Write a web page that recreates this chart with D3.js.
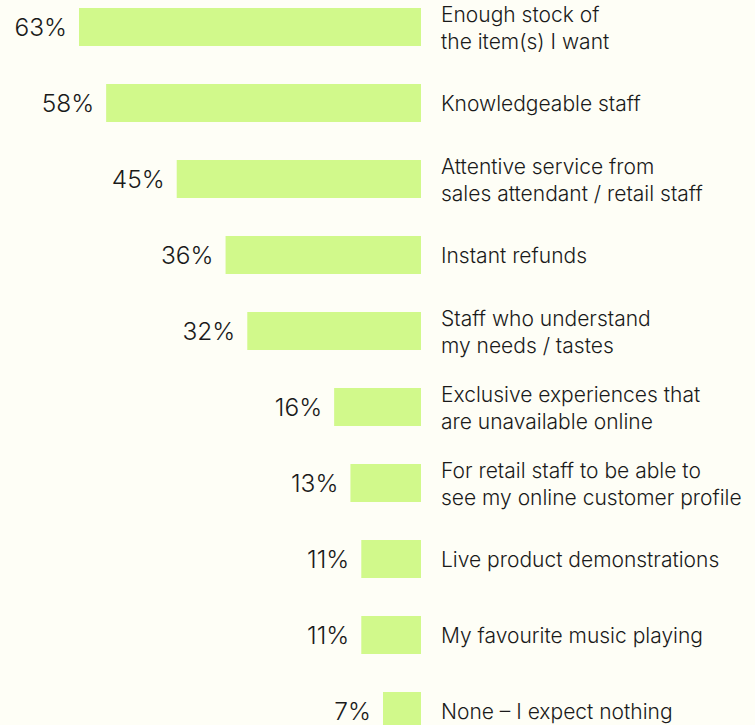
<!DOCTYPE html>
<html>
<head>
<meta charset="utf-8">
<script src="https://cdn.jsdelivr.net/npm/d3@7"></script>
<style>
  html, body { margin: 0; padding: 0; background: #FEFEF6; }
  svg { display: block; }
</style>
</head>
<body>
<svg id="chart" width="755" height="725"></svg>
<script>
// Survey answers: what shoppers expect in store
const categories = [
  ["Enough stock of", "the item(s) I want"],
  ["Knowledgeable staff"],
  ["Attentive service from", "sales attendant / retail staff"],
  ["Instant refunds"],
  ["Staff who understand", "my needs / tastes"],
  ["Exclusive experiences that", "are unavailable online"],
  ["For retail staff to be able to", "see my online customer profile"],
  ["Live product demonstrations"],
  ["My favourite music playing"],
  ["None \u2013 I expect nothing"]
];
const values = [63, 58, 45, 36, 32, 16, 13, 11, 11, 7];

const svg = d3.select("#chart");
const W = 755, H = 725;

svg.append("rect").attr("width", W).attr("height", H).attr("fill", "#FEFEF6");

const ids = categories.map((c, i) => i);

// Bars grow leftward from the baseline
const x = d3.scaleLinear().domain([0, 63]).range([421, 79]);
const y = d3.scaleBand().domain(ids).range([8, 730]).paddingInner(0.5).paddingOuter(0);

const g = svg.append("g");

g.selectAll("rect.bar")
  .data(ids)
  .join("rect")
  .attr("class", "bar")
  .attr("x", i => x(values[i]))
  .attr("y", i => y(i))
  .attr("width", i => x(0) - x(values[i]))
  .attr("height", y.bandwidth())
  .attr("fill", "#D1F98B");

// Value labels left of each bar
g.selectAll("text.val")
  .data(ids)
  .join("text")
  .attr("class", "val")
  .attr("x", i => x(values[i]) - 12)
  .attr("y", i => y(i) + y.bandwidth() / 2)
  .attr("dy", "0.36em")
  .attr("text-anchor", "end")
  .attr("font-family", "Inter, 'Noto Sans', sans-serif")
  .attr("font-size", 24.5)
  .attr("font-weight", 300)
  .attr("fill", "#1A1A1A")
  .text(i => values[i] + "%");

// Category labels right of the baseline, one or two lines
const lineH = 27;
const labels = g.selectAll("text.cat")
  .data(ids)
  .join("text")
  .attr("class", "cat")
  .attr("x", 441)
  .attr("y", i => y(i) + y.bandwidth() / 2 - (categories[i].length - 1) * lineH / 2 + 1)
  .attr("font-family", "Inter, 'Noto Sans', sans-serif")
  .attr("font-size", 21)
  .attr("font-weight", 300)
  .attr("fill", "#1A1A1A");

labels.each(function(i) {
  d3.select(this).selectAll("tspan")
    .data(categories[i])
    .join("tspan")
    .attr("x", 441)
    .attr("dy", (d, k) => k === 0 ? "0.35em" : lineH)
    .text(d => d);
});
</script>
</body>
</html>
